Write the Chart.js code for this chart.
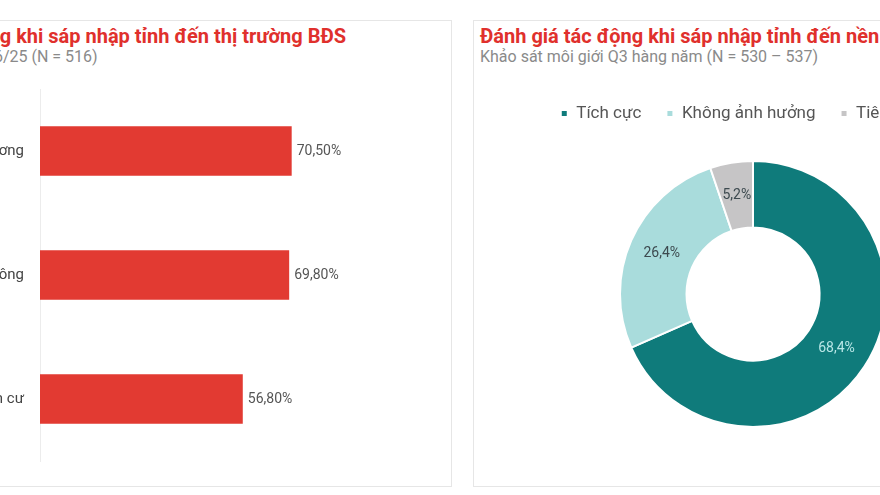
<!DOCTYPE html>
<html lang="vi">
<head>
<meta charset="utf-8">
<script src="https://cdn.jsdelivr.net/npm/chart.js@4.4.1/dist/chart.umd.min.js"></script>
<style>
  html, body { margin: 0; padding: 0; background: #ffffff; overflow: hidden; }
  body { width: 880px; height: 495px; position: relative; font-family: Roboto, "Noto Sans", sans-serif; }
  .card { position: absolute; top: 20px; height: 467px; border: 1px solid #e6e6e6; background: #fff; box-sizing: border-box; padding: 4px 6px; }
  .title { font-size: 20px; line-height: 22px; font-weight: 700; color: #e0302c; white-space: nowrap; }
  .sub { font-size: 16px; line-height: 18px; color: #8a8a8a; white-space: nowrap; margin-top: 1px; }
  canvas { position: absolute; }
</style>
</head>
<body>
<div class="card" id="leftCard" style="left:-159px; width:611px;">
  <div class="title">Đánh giá tác động khi sáp nhập tỉnh đến thị trường BĐS</div>
  <div class="sub">Khảo sát môi giới T06/25 (N = 516)</div>
</div>
<div class="card" id="rightCard" style="left:473px; width:600px;">
  <div class="title">Đánh giá tác động khi sáp nhập tỉnh đến nền kinh tế</div>
  <div class="sub">Khảo sát môi giới Q3 hàng năm (N = 530 – 537)</div>
</div>
<canvas id="barChart" width="700" height="422" style="left:-260px; top:64px; width:700px; height:422px;"></canvas>
<canvas id="donutChart" width="558" height="358" style="left:474px; top:80px; width:558px; height:358px;"></canvas>
<script>
// Left chart: horizontal bars
const barLabels = ["Thúc đẩy giao thương", "Hạ tầng giao thông", "Thay đổi phân bố dân cư"];
const barValues = [70.5, 69.8, 56.8];

// Right chart: doughnut
const donutLabels = ["Tích cực", "Không ảnh hưởng", "Tiêu cực"];
const donutValues = [68.4, 26.4, 5.2];

const fmt = (v, d) => v.toFixed(d).replace(".", ",") + "%";

// draws the value next to each bar
const barValuePlugin = {
  id: "barValues",
  afterDatasetsDraw(chart) {
    const ctx = chart.ctx;
    const meta = chart.getDatasetMeta(0);
    ctx.save();
    ctx.font = "14px Roboto";
    ctx.fillStyle = "#555";
    ctx.textAlign = "left";
    ctx.textBaseline = "middle";
    meta.data.forEach((bar, i) => {
      ctx.fillText(fmt(barValues[i], 2), bar.x + 5, bar.y);
    });
    ctx.restore();
  }
};

// draws the percentage inside each slice
const sliceValuePlugin = {
  id: "sliceValues",
  afterDatasetsDraw(chart) {
    const ctx = chart.ctx;
    const meta = chart.getDatasetMeta(0);
    ctx.save();
    ctx.font = "14px Roboto";
    ctx.textAlign = "center";
    ctx.textBaseline = "middle";
    meta.data.forEach((arc, i) => {
      const p = arc.tooltipPosition();
      ctx.fillStyle = i === 0 ? "#b8e6e6" : "#3d4a4f";
      ctx.fillText(fmt(donutValues[i], 1), p.x, p.y);
    });
    ctx.restore();
  }
};

// extra space under the legend, and nudge it a little to the left
const legendTweak = {
  id: "legendTweak",
  beforeInit(chart) {
    const fit = chart.legend.fit;
    chart.legend.fit = function () {
      fit.bind(chart.legend)();
      this.height += 28;
    };
  },
  afterLayout(chart) {
    chart.legend.left -= 12;
    chart.legend.right -= 12;
  }
};

new Chart(document.getElementById("barChart").getContext("2d"), {
  type: "bar",
  data: {
    labels: barLabels,
    datasets: [{
      data: barValues,
      backgroundColor: "#e23a32",
      categoryPercentage: 0.8,
      barPercentage: 0.5
    }]
  },
  options: {
    indexAxis: "y",
    responsive: false,
    animation: false,
    layout: { padding: { top: 8, bottom: 9, right: 43, left: 0 } },
    plugins: { legend: { display: false }, tooltip: { enabled: false } },
    scales: {
      x: { display: false, min: 0, max: 100 },
      y: {
        afterFit(scale) { scale.width = 300; },
        grid: { display: false, drawTicks: false },
        border: { display: true, color: "#ececec", width: 1 },
        ticks: { padding: 16, color: "#444", font: { family: "Roboto", size: 15 } }
      }
    }
  },
  plugins: [barValuePlugin]
});

new Chart(document.getElementById("donutChart").getContext("2d"), {
  type: "doughnut",
  data: {
    labels: donutLabels,
    datasets: [{
      data: donutValues,
      backgroundColor: ["#0f7b7b", "#a9dcdc", "#c6c5c6"],
      borderColor: "#ffffff",
      borderWidth: 2
    }]
  },
  options: {
    responsive: false,
    animation: false,
    cutout: "50%",
    layout: { padding: { bottom: 10 } },
    plugins: {
      tooltip: { enabled: false },
      legend: {
        position: "top",
        labels: {
          boxWidth: 7,
          boxHeight: 7,
          padding: 25,
          color: "#555",
          font: { family: "Roboto", size: 17 }
        }
      }
    }
  },
  plugins: [sliceValuePlugin, legendTweak]
});
</script>
</body>
</html>
